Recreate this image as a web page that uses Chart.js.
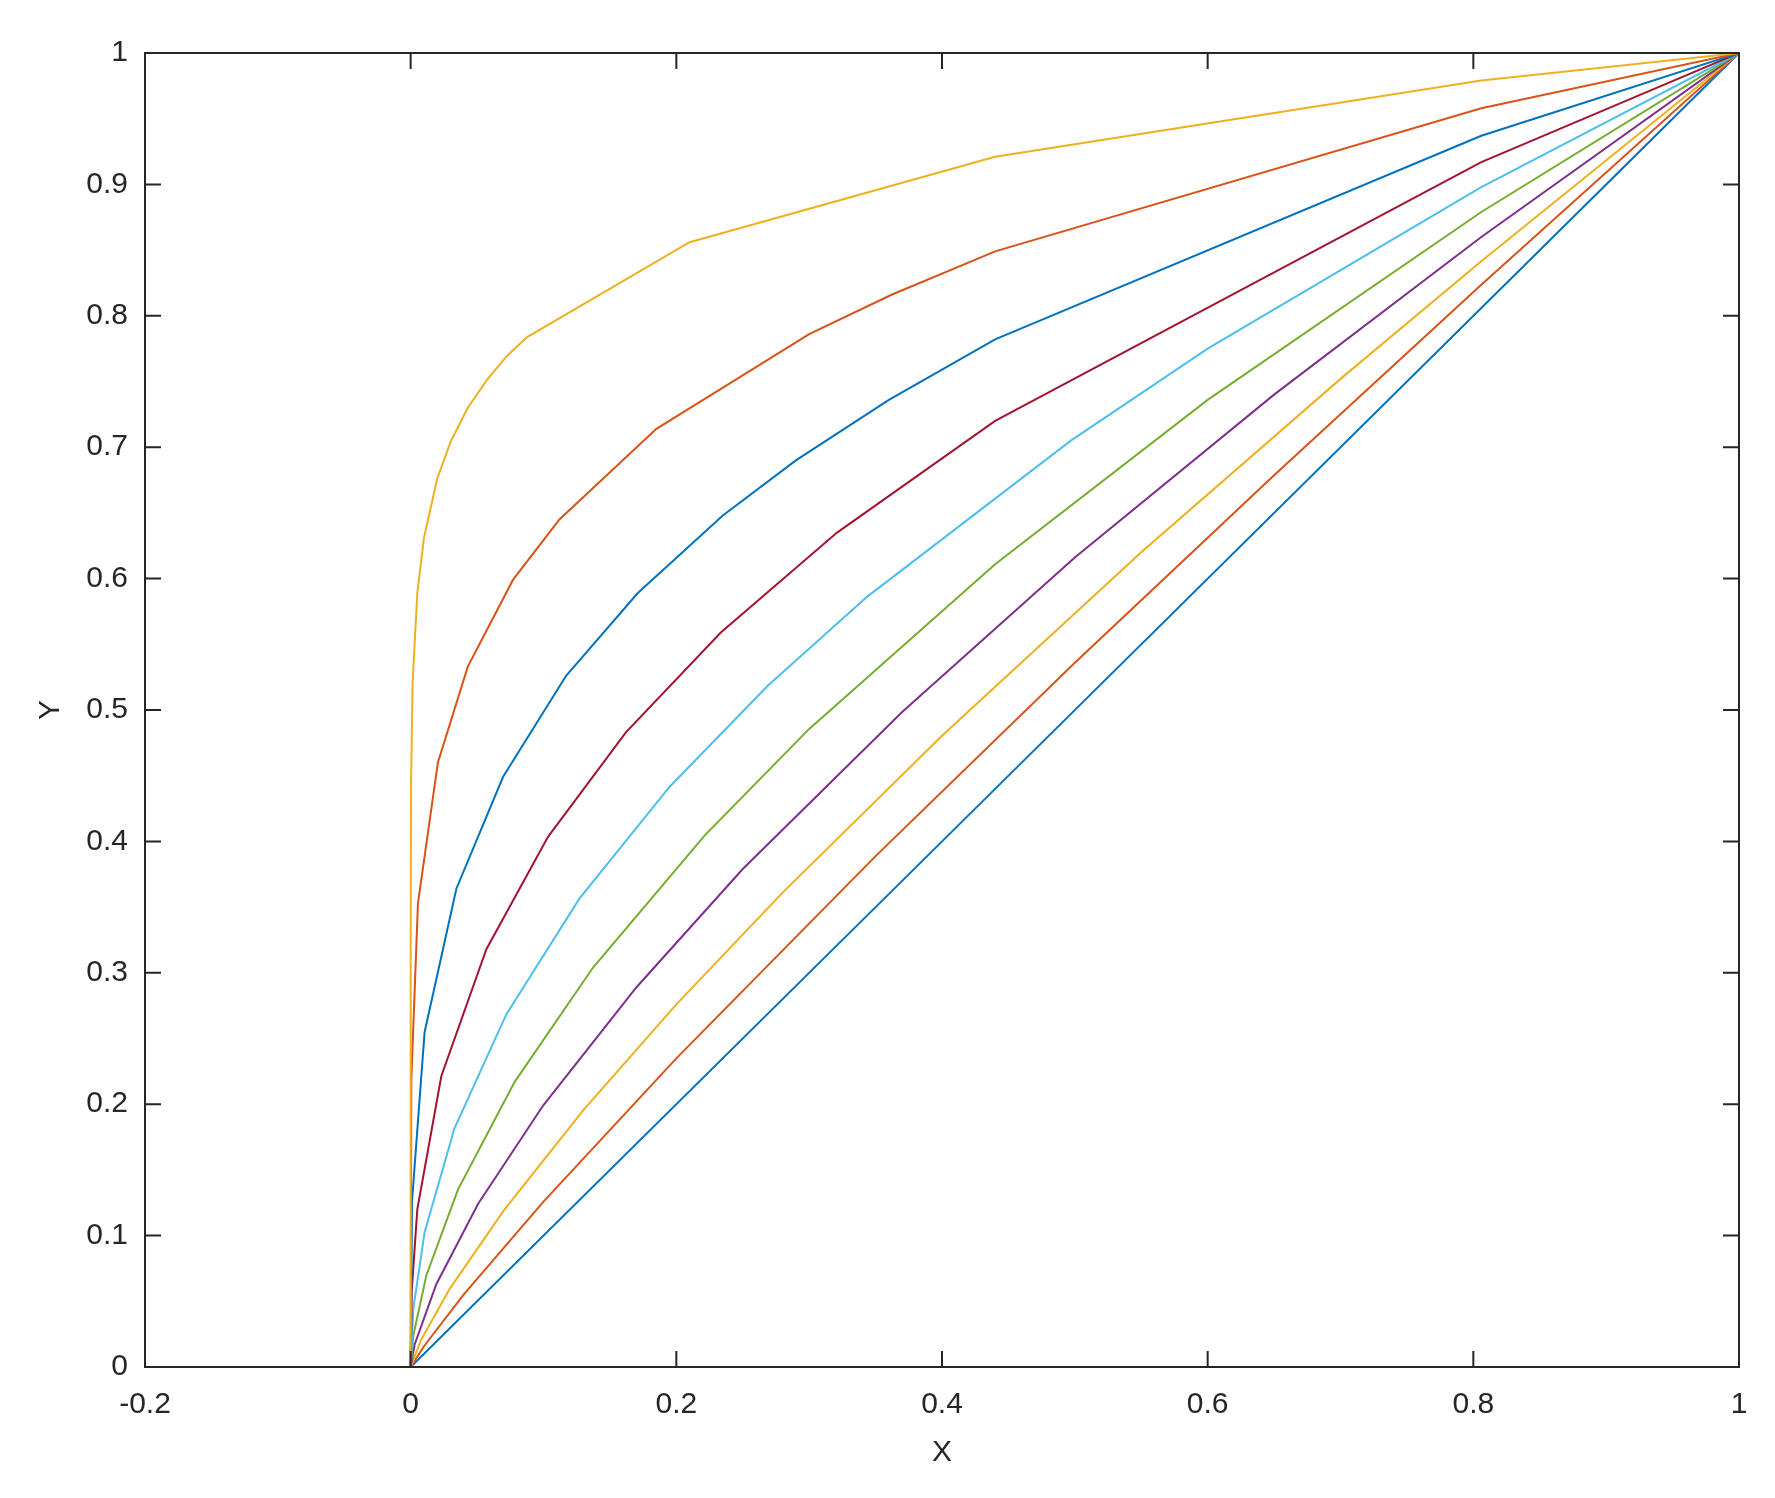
<!DOCTYPE html>
<html>
<head>
<meta charset="utf-8">
<script src="https://cdn.jsdelivr.net/npm/chart.js@4"></script>
<style>
  body { margin: 0; background: #fff; }
  #wrap { width: 1775px; height: 1498px; }
</style>
</head>
<body>
<div id="wrap"><canvas id="myChart"></canvas></div>
<script>
// ejes
const xTickVals = [-0.2, 0, 0.2, 0.4, 0.6, 0.8, 1];
const xTickLabels = ['-0.2', '0', '0.2', '0.4', '0.6', '0.8', '1'];
const yTickVals = [0, 0.1, 0.2, 0.3, 0.4, 0.5, 0.6, 0.7, 0.8, 0.9, 1];
const yTickLabels = ['0', '0.1', '0.2', '0.3', '0.4', '0.5', '0.6', '0.7', '0.8', '0.9', '1'];

// curvas, de la recta (abajo) a la mas curvada (arriba)
const x1 = [0, 0.44, 0.806, 1];
const y1 = [0, 0.44, 0.806, 1];

const x2 = [0, 0.01, 0.04, 0.1, 0.2, 0.35, 0.5, 0.65, 0.806, 1];
const y2 = [0, 0.0158, 0.0552, 0.1259, 0.2349, 0.3888, 0.536, 0.6786, 0.8236, 1];

const x3 = [0, 0.008, 0.0294, 0.07, 0.13, 0.2, 0.28, 0.4, 0.55, 0.7, 0.806, 1];
const y3 = [0, 0.021, 0.0595, 0.119, 0.1955, 0.276, 0.361, 0.4804, 0.62, 0.752, 0.8415, 1];

const x4 = [0, 0.003, 0.0193, 0.0507, 0.0997, 0.17, 0.25, 0.37, 0.5, 0.65, 0.806, 1];
const y4 = [0, 0.0172, 0.063, 0.124, 0.199, 0.289, 0.379, 0.4985, 0.616, 0.74, 0.86, 1];

const x5 = [0, 0.002, 0.0118, 0.0356, 0.0783, 0.1373, 0.2214, 0.3, 0.44, 0.6, 0.806, 1];
const y5 = [0, 0.024, 0.0697, 0.135, 0.217, 0.304, 0.4046, 0.4856, 0.611, 0.736, 0.879, 1];

const x6 = [0, 0.002, 0.0105, 0.033, 0.072, 0.127, 0.195, 0.2688, 0.344, 0.497, 0.6, 0.806, 1];
const y6 = [0, 0.0447, 0.1025, 0.1817, 0.2683, 0.3564, 0.4416, 0.5185, 0.5865, 0.705, 0.775, 0.898, 1];

const x7 = [0, 0.0008, 0.005, 0.0231, 0.057, 0.1034, 0.162, 0.2335, 0.321, 0.44, 0.806, 1];
const y7 = [0, 0.058, 0.12, 0.2215, 0.318, 0.4035, 0.483, 0.559, 0.635, 0.72, 0.917, 1];

const x8 = [0, 0.001, 0.0105, 0.0344, 0.0695, 0.117, 0.171, 0.235, 0.29, 0.36, 0.44, 0.806, 1];
const y8 = [0, 0.126, 0.255, 0.364, 0.449, 0.526, 0.589, 0.648, 0.69, 0.736, 0.782, 0.937, 1];

const x9 = [0, 0.0005, 0.0055, 0.0205, 0.043, 0.077, 0.112, 0.185, 0.3, 0.362, 0.44, 0.806, 1];
const y9 = [0, 0.219, 0.353, 0.46, 0.533, 0.599, 0.645, 0.714, 0.786, 0.816, 0.849, 0.958, 1];

const x10 = [0, 0.0000001, 0.00001, 0.0003, 0.0015, 0.005, 0.01, 0.02, 0.03, 0.043, 0.058, 0.073, 0.088, 0.21, 0.44, 0.806, 1];
const y10 = [0, 0.2, 0.316, 0.444, 0.522, 0.589, 0.631, 0.676, 0.704, 0.73, 0.752, 0.77, 0.784, 0.856, 0.921, 0.979, 1];

// colores por defecto de matlab
const colores = ['#0072BD', '#D95319', '#EDB120', '#7E2F8E', '#77AC30', '#4DBEEE', '#A2142F', '#0072BD', '#D95319', '#EDB120'];

const seriesX = [x1, x2, x3, x4, x5, x6, x7, x8, x9, x10];
const seriesY = [y1, y2, y3, y4, y5, y6, y7, y8, y9, y10];

const fuente = { family: '"Liberation Sans", Arial, sans-serif', size: 30 };
const colorTexto = '#262626';

const datasets = seriesX.map((xs, i) => {
    return {
        data: xs.map((x, j) => ({ x: x, y: seriesY[i][j] })),
        borderColor: colores[i],
        backgroundColor: colores[i],
        borderWidth: 2,
        showLine: true,
        pointRadius: 0,
        tension: 0,
        order: 10 - i
    };
});

// caja y marcas hacia adentro, como en matlab
const cajaPlugin = {
    id: 'caja',
    afterDatasetsDraw(chart) {
        const ctx = chart.ctx;
        const a = chart.chartArea;
        const sx = chart.scales.x;
        const sy = chart.scales.y;
        const largo = 16;
        ctx.save();
        ctx.strokeStyle = colorTexto;
        ctx.lineWidth = 2;
        ctx.strokeRect(a.left, a.top, a.right - a.left, a.bottom - a.top);
        ctx.beginPath();
        xTickVals.forEach(v => {
            const px = sx.getPixelForValue(v);
            ctx.moveTo(px, a.bottom); ctx.lineTo(px, a.bottom - largo);
            ctx.moveTo(px, a.top); ctx.lineTo(px, a.top + largo);
        });
        yTickVals.forEach(v => {
            const py = sy.getPixelForValue(v);
            ctx.moveTo(a.left, py); ctx.lineTo(a.left + largo, py);
            ctx.moveTo(a.right, py); ctx.lineTo(a.right - largo, py);
        });
        ctx.stroke();
        ctx.restore();
    }
};

const config = {
    type: 'scatter',
    data: { datasets: datasets },
    options: {
        responsive: true,
        maintainAspectRatio: false,
        animation: false,
        layout: { padding: { left: 0, top: 53, right: 36, bottom: 0 } },
        plugins: { legend: { display: false }, tooltip: { enabled: false } },
        scales: {
            x: {
                type: 'linear',
                min: -0.2,
                max: 1,
                afterBuildTicks: s => { s.ticks = xTickVals.map(v => ({ value: v })); },
                afterFit: s => { s.height = 131; },
                grid: { display: false, drawTicks: false },
                border: { display: false },
                ticks: {
                    font: fuente, color: colorTexto, padding: 20, maxRotation: 0,
                    callback: (v, i) => xTickLabels[i]
                },
                title: { display: true, text: 'X', font: fuente, color: colorTexto, padding: { top: 0, bottom: 27 } }
            },
            y: {
                type: 'linear',
                min: 0,
                max: 1,
                afterBuildTicks: s => { s.ticks = yTickVals.map(v => ({ value: v })); },
                afterFit: s => { s.width = 145; },
                grid: { display: false, drawTicks: false },
                border: { display: false },
                ticks: {
                    font: fuente, color: colorTexto, padding: 17,
                    callback: (v, i) => yTickLabels[i]
                },
                title: { display: true, text: 'Y', font: fuente, color: colorTexto, padding: { top: 33, bottom: 0 } }
            }
        }
    },
    plugins: [cajaPlugin]
};

new Chart(document.getElementById('myChart'), config);
</script>
</body>
</html>
